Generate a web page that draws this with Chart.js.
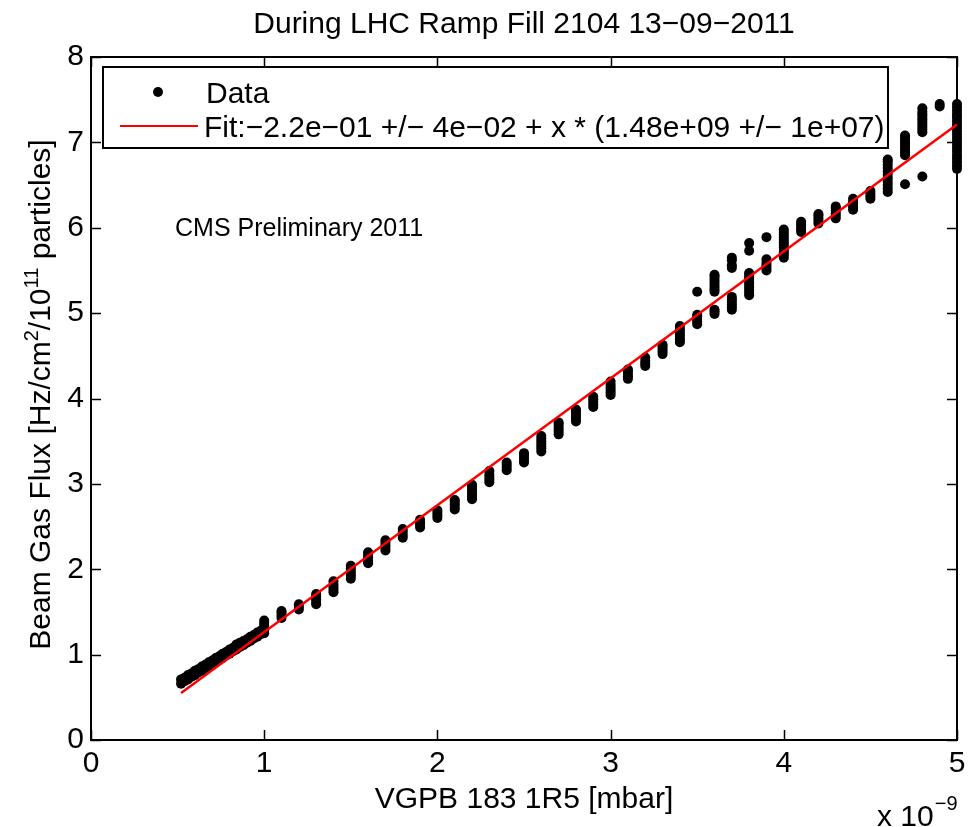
<!DOCTYPE html>
<html>
<head>
<meta charset="utf-8">
<script src="https://cdn.jsdelivr.net/npm/chart.js@4.4.1/dist/chart.umd.min.js"></script>
<style>
  html, body { margin: 0; padding: 0; background: #fff; }
  #wrap { width: 976px; height: 827px; }
</style>
</head>
<body>
<div id="wrap"><canvas id="c" width="976" height="827"></canvas></div>
<script>
// ---- data (x in units of 1e-9 mbar) ----
const bandX    = [0.52, 0.54, 0.56, 0.58, 0.60, 0.62, 0.64, 0.66, 0.68, 0.70, 0.72, 0.74,
                  0.76, 0.78, 0.80, 0.82, 0.84, 0.86, 0.88, 0.90, 0.92, 0.94, 0.96, 0.98];
const bandLow  = [0.66, 0.69, 0.71, 0.74, 0.76, 0.79, 0.81, 0.84, 0.86, 0.89, 0.91, 0.94,
                  0.96, 0.99, 1.01, 1.04, 1.06, 1.09, 1.11, 1.14, 1.16, 1.19, 1.21, 1.24];
const bandHigh = [0.71, 0.73, 0.76, 0.78, 0.81, 0.83, 0.86, 0.88, 0.91, 0.93, 0.96, 0.98,
                  1.01, 1.03, 1.06, 1.08, 1.12, 1.14, 1.16, 1.18, 1.21, 1.23, 1.26, 1.28];

const columnX = [1.0, 1.1, 1.2, 1.3, 1.4, 1.5, 1.6, 1.7, 1.8, 1.9, 2.0, 2.1, 2.2, 2.3, 2.4, 2.5,
                 2.6, 2.7, 2.8, 2.9, 3.0, 3.1, 3.2, 3.3, 3.4, 3.5, 3.6, 3.7, 3.8, 3.9, 4.0,
                 4.1, 4.2, 4.3, 4.4, 4.5, 4.6, 4.7, 4.8, 4.9, 5.0];
const columnY = [
  [1.25, 1.28, 1.31, 1.34, 1.37, 1.40],
  [1.43, 1.46, 1.49, 1.51],
  [1.53, 1.56, 1.59],
  [1.59, 1.62, 1.65, 1.68, 1.71],
  [1.73, 1.76, 1.79, 1.82, 1.86],
  [1.89, 1.92, 1.95, 1.98, 2.01, 2.04],
  [2.07, 2.10, 2.14, 2.17, 2.20],
  [2.22, 2.25, 2.28, 2.31, 2.34],
  [2.37, 2.40, 2.44, 2.47],
  [2.49, 2.52, 2.55, 2.58],
  [2.60, 2.63, 2.66, 2.69],
  [2.70, 2.73, 2.76, 2.79, 2.81],
  [2.82, 2.85, 2.88, 2.91, 2.94, 2.97, 2.99],
  [3.02, 3.05, 3.08, 3.11, 3.15],
  [3.16, 3.19, 3.22, 3.25],
  [3.25, 3.28, 3.31, 3.34, 3.36],
  [3.38, 3.41, 3.44, 3.47, 3.50, 3.53, 3.56],
  [3.58, 3.61, 3.64, 3.67, 3.70, 3.72],
  [3.73, 3.76, 3.79, 3.82, 3.85, 3.87],
  [3.90, 3.93, 3.96, 3.99, 4.02],
  [4.04, 4.07, 4.10, 4.13, 4.16, 4.20],
  [4.23, 4.26, 4.29, 4.32, 4.34],
  [4.38, 4.41, 4.44, 4.48],
  [4.52, 4.55, 4.58, 4.61, 4.63],
  [4.66, 4.69, 4.72, 4.75, 4.78, 4.81, 4.85],
  [4.87, 4.90, 4.93, 4.96, 4.98, 5.25],
  [4.99, 5.02, 5.04, 5.25, 5.28, 5.31, 5.34, 5.37, 5.40, 5.43, 5.45],
  [5.04, 5.07, 5.10, 5.13, 5.16, 5.19, 5.53, 5.56, 5.62, 5.65],
  [5.21, 5.24, 5.27, 5.30, 5.33, 5.36, 5.39, 5.42, 5.45, 5.47, 5.73, 5.82],
  [5.50, 5.53, 5.56, 5.59, 5.63, 5.89],
  [5.65, 5.68, 5.71, 5.74, 5.77, 5.80, 5.83, 5.86, 5.89, 5.92, 5.95, 5.98],
  [5.95, 5.98, 6.01, 6.04, 6.07],
  [6.05, 6.08, 6.11, 6.14, 6.16],
  [6.11, 6.14, 6.17, 6.20, 6.23, 6.25],
  [6.21, 6.24, 6.27, 6.30, 6.34],
  [6.34, 6.37, 6.40, 6.43],
  [6.42, 6.46, 6.50, 6.54, 6.58, 6.62, 6.66, 6.70, 6.74, 6.78, 6.80],
  [6.51, 6.85, 6.88, 6.91, 6.94, 6.97, 7.00, 7.03, 7.06, 7.08],
  [6.60, 7.12, 7.15, 7.18, 7.21, 7.24, 7.27, 7.30, 7.33, 7.36, 7.40],
  [7.42, 7.45],
  [6.69, 6.73, 6.77, 6.81, 6.85, 6.89, 6.93, 6.97, 7.01, 7.05, 7.09, 7.13, 7.17, 7.21, 7.25, 7.29, 7.33, 7.37, 7.41, 7.45]
];

const fitX = [0.52, 5.0];
const fitY = [0.55, 7.21];

const xTicks = [0, 1, 2, 3, 4, 5];
const yTicks = [0, 1, 2, 3, 4, 5, 6, 7, 8];

const titleText  = 'During LHC Ramp Fill 2104 13\u221209\u22122011';
const xTitleText = 'VGPB 183 1R5 [mbar]';
const noteText   = 'CMS Preliminary 2011';
const legendData = 'Data';
const legendFit  = 'Fit:\u22122.2e\u221201 +/\u2212 4e\u221202 + x * (1.48e+09 +/\u2212 1e+07)';

// ---- build points ----
const dataPoints = [];
bandX.forEach((x, i) => { dataPoints.push({x, y: bandLow[i]}); dataPoints.push({x, y: bandHigh[i]}); });
columnX.forEach((x, i) => columnY[i].forEach(y => dataPoints.push({x, y})));
const fitPoints = fitX.map((x, i) => ({x, y: fitY[i]}));

const FONT = "'Liberation Sans', Arial, Helvetica, sans-serif";
Chart.defaults.font.family = FONT;
Chart.defaults.color = '#000';

const TL = 10;

const overlay = {
  id: 'overlay',
  beforeDatasetsDraw(chart) {
    const {ctx, chartArea: a, scales: {x, y}} = chart;
    ctx.save();
    ctx.strokeStyle = '#000';
    ctx.lineWidth = 1.5;
    ctx.beginPath();
    xTicks.forEach(v => {
      const px = Math.round(x.getPixelForValue(v)) + 0.5;
      ctx.moveTo(px, a.bottom); ctx.lineTo(px, a.bottom - TL);
      ctx.moveTo(px, a.top); ctx.lineTo(px, a.top + TL);
    });
    yTicks.forEach(v => {
      const py = Math.round(y.getPixelForValue(v)) + 0.5;
      ctx.moveTo(a.left, py); ctx.lineTo(a.left + TL, py);
      ctx.moveTo(a.right, py); ctx.lineTo(a.right - TL, py);
    });
    ctx.stroke();
    ctx.lineWidth = 2;
    ctx.strokeRect(a.left, a.top, a.right - a.left, a.bottom - a.top);
    ctx.restore();
  },
  afterDraw(chart) {
    const {ctx, chartArea: a} = chart;
    ctx.save();
    ctx.fillStyle = '#000';
    // title
    ctx.font = '30px ' + FONT;
    ctx.textAlign = 'center';
    ctx.textBaseline = 'alphabetic';
    ctx.fillText(titleText, (a.left + a.right) / 2, 33);
    // x title
    ctx.fillText(xTitleText, (a.left + a.right) / 2, 808);
    // exponent
    ctx.textAlign = 'left';
    ctx.font = '30px ' + FONT;
    ctx.fillText('x 10', 877, 826);
    const w10 = ctx.measureText('x 10').width;
    ctx.font = '20px ' + FONT;
    ctx.fillText('\u22129', 877 + w10 + 1, 810);
    // y title with superscripts
    const parts = [
      ['Beam Gas Flux [Hz/cm', 30, 0],
      ['2', 20, -12],
      ['/10', 30, 0],
      ['11', 20, -12],
      [' particles]', 30, 0]
    ];
    let total = 0;
    parts.forEach(p => { ctx.font = p[1] + 'px ' + FONT; p.push(ctx.measureText(p[0]).width); total += p[3]; });
    ctx.save();
    ctx.translate(50, (a.top + a.bottom) / 2 - 4);
    ctx.rotate(-Math.PI / 2);
    let cx = -total / 2;
    parts.forEach(p => {
      ctx.font = p[1] + 'px ' + FONT;
      ctx.fillText(p[0], cx, p[2]);
      cx += p[3];
    });
    ctx.restore();
    // note
    ctx.font = '25px ' + FONT;
    ctx.fillText(noteText, 175, 236);
    // legend
    ctx.fillStyle = '#fff';
    ctx.fillRect(103, 67, 785, 81);
    ctx.strokeStyle = '#000';
    ctx.lineWidth = 2;
    ctx.strokeRect(103, 67, 785, 81);
    ctx.fillStyle = '#000';
    ctx.beginPath();
    ctx.arc(158, 92, 5, 0, Math.PI * 2);
    ctx.fill();
    ctx.strokeStyle = '#ff0000';
    ctx.lineWidth = 2;
    ctx.beginPath();
    ctx.moveTo(120, 126); ctx.lineTo(198, 126);
    ctx.stroke();
    ctx.font = '30px ' + FONT;
    ctx.fillText(legendData, 206, 103);
    ctx.fillText(legendFit, 204, 137);
    ctx.restore();
  }
};

new Chart(document.getElementById('c'), {
  type: 'scatter',
  data: {
    datasets: [
      {
        label: 'Fit',
        data: fitPoints,
        showLine: true,
        borderColor: '#ff0000',
        borderWidth: 2.5,
        pointRadius: 0,
        fill: false,
        order: 0,
        clip: false
      },
      {
        label: 'Data',
        data: dataPoints,
        pointRadius: 5,
        pointHoverRadius: 5,
        pointBackgroundColor: '#000',
        pointBorderColor: '#000',
        pointBorderWidth: 0,
        showLine: false,
        order: 1,
        clip: false
      }
    ]
  },
  options: {
    responsive: false,
    animation: false,
    events: [],
    layout: { padding: { left: 0, top: 57, right: 19, bottom: 0 } },
    plugins: { legend: { display: false }, title: { display: false }, tooltip: { enabled: false } },
    scales: {
      x: {
        type: 'linear', min: 0, max: 5,
        afterBuildTicks: s => { s.ticks = xTicks.map(v => ({value: v})); },
        afterFit: s => { s.height = 87; },
        grid: { display: false, drawTicks: false, tickLength: 0 },
        border: { display: false },
        ticks: { font: { size: 30, family: FONT }, color: '#000', padding: 6, maxRotation: 0, autoSkip: false }
      },
      y: {
        type: 'linear', min: 0, max: 8,
        afterBuildTicks: s => { s.ticks = yTicks.map(v => ({value: v})); },
        afterFit: s => { s.width = 91; },
        grid: { display: false, drawTicks: false, tickLength: 0 },
        border: { display: false },
        ticks: { font: { size: 30, family: FONT }, color: '#000', padding: 7, autoSkip: false }
      }
    }
  },
  plugins: [overlay]
});
</script>
</body>
</html>
